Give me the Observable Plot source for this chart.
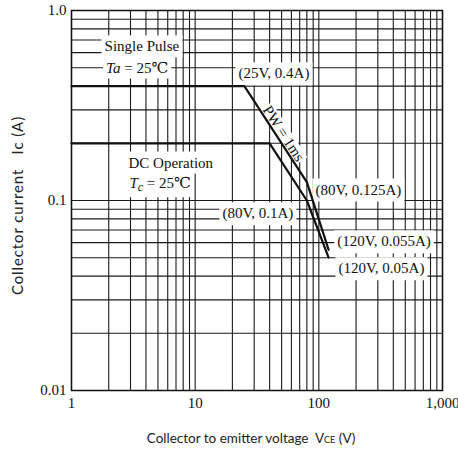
<!DOCTYPE html>
<html><head><meta charset="utf-8">
<script src="https://cdn.jsdelivr.net/npm/d3@7"></script>
<script src="https://cdn.jsdelivr.net/npm/@observablehq/plot@0.6"></script>
<style>
body{margin:0;background:#fff}
svg{display:block}
text{white-space:pre}
</style>
</head><body><div id="chart"></div>
<script>
// grid and ticks
const xGridValues = [1,2,3,4,5,6,7,8,9,10,20,30,40,50,60,70,80,90,100,200,300,400,500,600,700,800,900,1000];
const yGridValues = [0.01,0.02,0.03,0.04,0.05,0.06,0.07,0.08,0.09,0.1,0.2,0.3,0.4,0.5,0.6,0.7,0.8,0.9,1];
const xTickValues = [1,10,100,1000];
const xTickLabels = ["1","10","100","1,000"];
const yTickValues = [0.01,0.1,1];
const yTickLabels = ["0.01","0.1","1.0"];

// safe operating area boundaries
const pulseV = [1,25,80,120];
const pulseI = [0.4,0.4,0.125,0.055];
const dcV = [1,40,80,120];
const dcI = [0.2,0.2,0.1,0.05];

// annotations (text, anchor voltage, anchor current)
const noteText = ["Single Pulse","Ta=25℃","DC Operation","Tc=25℃","(25V, 0.4A)","(80V, 0.125A)","(80V, 0.1A)","(120V, 0.055A)","(120V, 0.05A)"];
const noteV = [1.85,1.9,2.89,2.94,22.4,93.8,16.6,141,144];
const noteI = [0.646,0.50,0.158,0.123,0.466,0.114,0.0855,0.0608,0.0439];
const pwText = ["PW = 1ms"];
const pwV = [51.8];
const pwI = [0.225];

const xTitle = "Collector to emitter voltage  VCE (V)";
const yTitle = "Collector current   Ic (A)";

const pulse = pulseV.map((v,i)=>({v, i: pulseI[i]}));
const dc = dcV.map((v,i)=>({v, i: dcI[i]}));
const notes = noteText.map((t,k)=>({t, v: noteV[k], i: noteI[k]}));
const pw = pwText.map((t,k)=>({t, v: pwV[k], i: pwI[k]}));

const serif = "'Liberation Serif', 'DejaVu Serif', serif";
const sans = "Lato, 'Open Sans', sans-serif";

const chart = Plot.plot({
  width: 458, height: 456,
  marginLeft: 71, marginRight: 16, marginTop: 10, marginBottom: 66,
  style: {fontFamily: serif, fontSize: "15px", background: "#fff", color: "#111"},
  x: {type: "log", domain: [1,1000]},
  y: {type: "log", domain: [0.01,1]},
  marks: [
    Plot.ruleX(xGridValues, {stroke: "#1a1a1a", strokeWidth: 1.1}),
    Plot.ruleY(yGridValues, {stroke: "#1a1a1a", strokeWidth: 1.1}),
    Plot.frame({stroke: "#111", strokeWidth: 1.5}),
    Plot.axisX({ticks: xTickValues, tickFormat: d => xTickLabels[xTickValues.indexOf(d)], tickSize: 0, tickPadding: 7, label: null, fontSize: 15, fontFamily: serif}),
    Plot.axisY({ticks: yTickValues, tickFormat: d => yTickLabels[yTickValues.indexOf(d)], tickSize: 0, tickPadding: 5, label: null, fontSize: 15, fontFamily: serif}),
    Plot.text(notes, {x: "v", y: "i", text: "t", textAnchor: "start", lineAnchor: "middle", fill: "#111", stroke: "white", strokeWidth: 4, fontSize: 15, fontFamily: serif}),
    Plot.text(pw, {x: "v", y: "i", text: "t", rotate: 57, textAnchor: "middle", lineAnchor: "middle", fill: "#111", stroke: "white", strokeWidth: 3, fontSize: 15, fontFamily: serif}),
    Plot.line(pulse, {x: "v", y: "i", stroke: "#111", strokeWidth: 2.2}),
    Plot.line(dc, {x: "v", y: "i", stroke: "#111", strokeWidth: 2.2}),
    Plot.text([yTitle], {frameAnchor: "left", rotate: -90, dx: -53, dy: 5, textAnchor: "middle", lineAnchor: "middle", fill: "#222", fontSize: 15, fontFamily: sans}),
    Plot.text([xTitle], {frameAnchor: "bottom", dx: -6, dy: 48, textAnchor: "middle", lineAnchor: "middle", fill: "#222", fontSize: 13.5, fontFamily: sans})
  ]
});

document.getElementById("chart").append(chart);

const svgTexts = Array.from(chart.querySelectorAll("text"));
const boxed = new Set([...noteText, ...pwText]);
const boxedEls = svgTexts.filter(el => boxed.has(el.textContent));

// rich text formatting for subscripts / italics
const rich = {
  "Ta=25℃": [{t:"T", it:true},{t:"a", it:true},{t:" = 25℃"}],
  "Tc=25℃": [{t:"T", it:true},{t:"c", it:true, dy:3, fs:"12px"},{t:" = 25℃", dy:-3}],
  "Collector to emitter voltage  VCE (V)": [{t:"Collector to emitter voltage  V"},{t:"CE", fs:"9px"},{t:" (V)"}]
};
for (const el of svgTexts) {
  const spec = rich[el.textContent];
  if (!spec) continue;
  const s0 = d3.select(el);
  s0.text(null);
  for (const s of spec) {
    const ts = s0.append("tspan").text(s.t);
    if (s.it) ts.attr("font-style","italic");
    if (s.dy) ts.attr("dy", s.dy);
    if (s.fs) ts.attr("font-size", s.fs);
  }
}
for (const el of svgTexts) {
  if (el.textContent.startsWith("Collector current")) el.setAttribute("letter-spacing", "0.9px");
}

// white boxes behind annotation texts (sized from the rendered text)
for (const el of boxedEls) {
  const b = el.getBBox();
  const rot = (el.getAttribute("transform") || "").includes("rotate");
  const padX = rot ? 1 : 3;
  const padY = rot ? -1 : 3;
  const r = document.createElementNS("http://www.w3.org/2000/svg", "rect");
  r.setAttribute("x", b.x - padX);
  r.setAttribute("y", b.y - padY);
  r.setAttribute("width", b.width + 2 * padX);
  r.setAttribute("height", b.height + 2 * padY);
  r.setAttribute("fill", "white");
  r.setAttribute("stroke", "none");
  if (el.getAttribute("transform")) r.setAttribute("transform", el.getAttribute("transform"));
  el.parentNode.insertBefore(r, el);
}
</script>
</body></html>
